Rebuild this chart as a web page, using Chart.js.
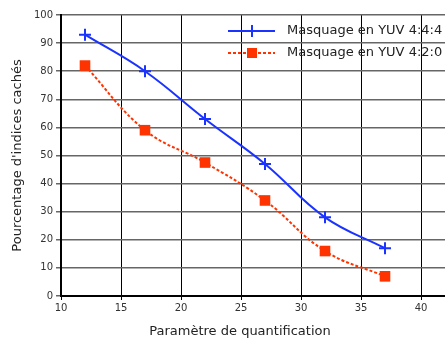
<!DOCTYPE html>
<html>
<head>
<meta charset="utf-8">
<script src="https://cdn.jsdelivr.net/npm/chart.js@4"></script>
<style>
  html, body { margin: 0; padding: 0; background: #fff; }
  #wrap { width: 445px; height: 343px; }
</style>
</head>
<body>
<div id="wrap"><canvas id="myChart"></canvas></div>
<script>
const quantParams = [12, 17, 22, 27, 32, 37];
const yuv444 = [93, 80, 63, 47, 28, 17];
const yuv420 = [82, 59, 47.5, 34, 16, 7];
const seriesNames = ["Masquage en YUV 4:4:4", "Masquage en YUV 4:2:0"];
const xTitle = "Paramètre de quantification";
const yTitle = "Pourcentage d'indices cachés";

const BLUE = "#1a33ff";
const RED = "#ff3300";
const FONT = "'DejaVu Sans', sans-serif";

const toPoints = (ys) => ys.map((y, i) => ({ x: quantParams[i], y: y }));

// titles + legend drawn inside the plot like the original
const decorations = {
  id: "decorations",
  afterDraw(chart) {
    const ctx = chart.ctx;
    const area = chart.chartArea;
    ctx.save();
    ctx.fillStyle = "#222";
    ctx.font = "13px " + FONT;
    ctx.textAlign = "center";
    ctx.textBaseline = "middle";
    ctx.fillText(xTitle, 240, 332);
    ctx.translate(18, (area.top + area.bottom) / 2);
    ctx.rotate(-Math.PI / 2);
    ctx.fillText(yTitle, 0, 0);
    ctx.restore();

    // legend
    const rows = [
      { y: 31, color: BLUE, dash: [], name: seriesNames[0], marker: "cross" },
      { y: 53, color: RED, dash: [3, 2], name: seriesNames[1], marker: "rect" },
    ];
    ctx.save();
    rows.forEach((r) => {
      ctx.strokeStyle = r.color;
      ctx.lineWidth = 2;
      ctx.setLineDash(r.dash);
      ctx.beginPath();
      ctx.moveTo(228, r.y);
      ctx.lineTo(275, r.y);
      ctx.stroke();
      ctx.setLineDash([]);
      if (r.marker === "cross") {
        ctx.beginPath();
        ctx.moveTo(252, r.y - 6);
        ctx.lineTo(252, r.y + 6);
        ctx.moveTo(246, r.y);
        ctx.lineTo(258, r.y);
        ctx.stroke();
      } else {
        ctx.fillStyle = r.color;
        ctx.fillRect(247, r.y - 5, 10, 10);
      }
      ctx.fillStyle = "#222";
      ctx.font = "13px " + FONT;
      ctx.textAlign = "left";
      ctx.textBaseline = "middle";
      ctx.fillText(r.name, 287, r.y);
    });
    ctx.restore();
  },
};

const ctx = document.getElementById("myChart");

const data = {
  datasets: [
    {
      label: seriesNames[0],
      data: toPoints(yuv444),
      borderColor: BLUE,
      backgroundColor: BLUE,
      borderWidth: 2,
      tension: 0.4,
      pointStyle: "cross",
      pointRadius: 6,
      pointBorderWidth: 2,
      pointBorderColor: BLUE,
    },
    {
      label: seriesNames[1],
      data: toPoints(yuv420),
      borderColor: RED,
      backgroundColor: RED,
      borderWidth: 2,
      borderDash: [3, 2],
      tension: 0.4,
      pointStyle: "rect",
      pointRadius: 7.5,
      pointBorderWidth: 0,
      pointBackgroundColor: RED,
    },
  ],
};

const config = {
  type: "line",
  data: data,
  plugins: [decorations],
  options: {
    responsive: true,
    maintainAspectRatio: false,
    animation: false,
    layout: { autoPadding: false, padding: { top: 15, right: 0, left: 0, bottom: 0 } },
    plugins: {
      legend: { display: false },
      tooltip: { enabled: false },
    },
    scales: {
      x: {
        type: "linear",
        position: "bottom",
        min: 10,
        max: 42,
        afterBuildTicks: (scale) => {
          scale.ticks = scale.ticks.filter((t) => t.value % 5 === 0);
        },
        afterFit: (scale) => {
          scale.height = 47;
        },
        ticks: {
          stepSize: 5,
          maxRotation: 0,
          color: "#333",
          font: { family: FONT, size: 10 },
          padding: 2,
        },
        grid: {
          color: "#000",
          lineWidth: 1,
          tickLength: 4,
          drawTicks: true,
        },
        border: { color: "#000", width: 2 },
      },
      y: {
        min: 0,
        max: 100,
        afterFit: (scale) => {
          scale.width = 61;
        },
        ticks: {
          stepSize: 10,
          color: "#333",
          font: { family: FONT, size: 10 },
          padding: 3,
        },
        grid: {
          color: "#666",
          lineWidth: 1.5,
          tickLength: 5,
        },
        border: { color: "#000", width: 2 },
      },
    },
  },
};

new Chart(ctx, config);
</script>
</body>
</html>
